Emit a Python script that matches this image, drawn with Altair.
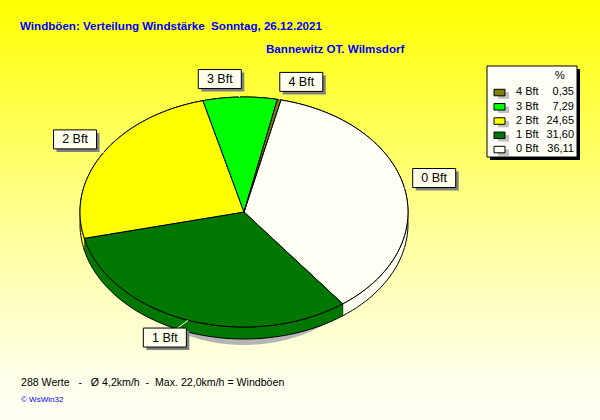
import altair as alt

# Wind force classes in drawing order (clockwise from the start angle)
classes = ["0 Bft", "1 Bft", "2 Bft", "3 Bft", "4 Bft"]
shares = [36.11, 31.60, 24.65, 7.29, 0.35]
colors = ["#FFFFF6", "#007800", "#FFFF00", "#00FF00", "#808000"]

title_main = "Windböen: Verteilung Windstärke  Sonntag, 26.12.2021"
title_station = "Bannewitz OT. Wilmsdorf"
footer = "288 Werte   -   Ø 4,2km/h  -  Max. 22,0km/h = Windböen"
credit = "© WsWin32"

# Canvas and pie geometry (pixels)
W, H = 600, 420
CX, CY, RX, RY = 244, 212, 164, 115
DEPTH = 12
START = 13          # degrees clockwise from 12 o'clock
N = 60              # rim points per slice
FONT = "Liberation Sans, Arial, sans-serif"

face_steps = list(range(-1, N + 2))
band_steps = list(range(0, 2 * N + 2))

src = alt.Data(values=[
    {"cls": c, "pct": p, "idx": i, "face": face_steps, "band": band_steps}
    for i, (c, p) in enumerate(zip(classes, shares))
])
one = alt.Data(values=[{}])

xs = alt.Scale(domain=[0, W], range=[0, W], nice=False, zero=False)
ys = alt.Scale(domain=[0, H], range=[0, H], nice=False, zero=False)


def X(f):
    return alt.X(f, type="quantitative", scale=xs, axis=None)


def Y(f):
    return alt.Y(f, type="quantitative", scale=ys, axis=None)


slice_color = alt.Color("cls:N", scale=alt.Scale(domain=classes, range=colors), legend=None)


def slices():
    return (
        alt.Chart(src)
        .transform_window(cum="sum(pct)", sort=[alt.SortField("idx")], frame=[None, 0])
        .transform_calculate(
            a0=f"({START} + 3.6 * (datum.cum - datum.pct)) * PI / 180",
            a1=f"({START} + 3.6 * datum.cum) * PI / 180",
        )
        .transform_calculate(amid="(datum.a0 + datum.a1) / 2")
    )


# background gradient
bg = alt.Chart(one).mark_rect(
    color=alt.Gradient(
        gradient="linear",
        stops=[
            alt.GradientStop(color="#FFFF00", offset=0),
            alt.GradientStop(color="#FFFF9B", offset=0.55),
            alt.GradientStop(color="#FFFFEA", offset=0.9),
            alt.GradientStop(color="#FFFFF4", offset=1),
        ],
        x1=0, x2=0, y1=0, y2=1,
    )
).encode(x=alt.value(0), x2=alt.value(W), y=alt.value(0), y2=alt.value(H))

# drop shadow under the pie
shadow = (
    slices()
    .transform_flatten(["face"], ["step"])
    .transform_calculate(
        a=f"datum.a0 + (datum.a1 - datum.a0) * clamp(datum.step, 0, {N}) / {N}",
        rim=f"datum.step >= 0 && datum.step <= {N}",
    )
    .transform_calculate(
        x=f"datum.rim ? {CX} + 140 * sin(datum.a) : {CX}",
        y=f"datum.rim ? {CY + 20} - 113 * cos(datum.a) : {CY + 20}",
    )
    .mark_line(filled=True, strokeWidth=0, interpolate="linear")
    .encode(x=X("x"), y=Y("y"), order=alt.Order("step:Q"), detail="cls:N",
            color=alt.value("#B4B4B4"))
)

# side walls of the pie
band = (
    slices()
    .transform_flatten(["band"], ["s"])
    .transform_calculate(
        frac=f"datum.s <= {N} ? datum.s / {N} : ({2 * N + 1} - datum.s) / {N}",
        dy=f"datum.s <= {N} ? 0 : {DEPTH}",
    )
    .transform_calculate(a="datum.a0 + (datum.a1 - datum.a0) * datum.frac")
    .transform_calculate(
        x=f"{CX} + {RX} * sin(datum.a)",
        y=f"{CY} - {RY} * cos(datum.a) + datum.dy",
    )
    .mark_line(filled=True, stroke="black", strokeWidth=1, interpolate="linear")
    .encode(x=X("x"), y=Y("y"), order=alt.Order("s:Q"), color=slice_color)
)

# top surface
face = (
    slices()
    .transform_flatten(["face"], ["step"])
    .transform_calculate(
        a=f"datum.a0 + (datum.a1 - datum.a0) * clamp(datum.step, 0, {N}) / {N}",
        rim=f"datum.step >= 0 && datum.step <= {N}",
    )
    .transform_calculate(
        x=f"datum.rim ? {CX} + {RX} * sin(datum.a) : {CX}",
        y=f"datum.rim ? {CY} - {RY} * cos(datum.a) : {CY}",
    )
    .mark_line(filled=True, stroke="black", strokeWidth=1, interpolate="linear")
    .encode(x=X("x"), y=Y("y"), order=alt.Order("step:Q"), color=slice_color)
)

# slice labels placed outside the rim
lab = slices().transform_calculate(
    ex=f"{CX} + {RX} * sin(datum.amid)",
    ey=f"{CY} - {RY} * cos(datum.amid)",
    sx="sin(datum.amid) >= 0 ? 1 : -1",
    sy="cos(datum.amid) >= 0 ? -1 : 1",
).transform_calculate(
    lx="datum.ex + datum.sx * (20 + 10 * abs(sin(datum.amid)))",
    ly="datum.ey + datum.sy * (8 + 10 * abs(cos(datum.amid)))",
).transform_calculate(
    bx0="datum.lx - 21.5", bx1="datum.lx + 21.5",
    by0="datum.ly - 9.5", by1="datum.ly + 9.5",
    sx0="datum.lx - 18.5", sx1="datum.lx + 24.5",
    sy0="datum.ly - 6.5", sy1="datum.ly + 12.5",
)

leaders = lab.mark_rule(color="white", strokeWidth=1).encode(
    x=X("ex"), y=Y("ey"), x2="lx:Q", y2="ly:Q")
box_shadow = lab.mark_rect(color="#808080").encode(
    x=X("sx0"), x2="sx1:Q", y=Y("sy0"), y2="sy1:Q")
boxes = lab.mark_rect(fill="#FFFFEC", stroke="black", strokeWidth=1).encode(
    x=X("bx0"), x2="bx1:Q", y=Y("by0"), y2="by1:Q")
labels = lab.mark_text(font=FONT, fontSize=12.5, color="black", align="center",
                       baseline="middle").encode(x=X("lx"), y=Y("ly"), text="cls:N")

# legend box
LX0, LX1, LY0, LY1 = 487, 577, 66, 157
leg_shadow = alt.Chart(one).mark_rect(color="black").encode(
    x=alt.value(LX0 + 3), x2=alt.value(LX1 + 3), y=alt.value(LY0 + 3), y2=alt.value(LY1 + 3))
leg_box = alt.Chart(one).mark_rect(fill="#FFFFF8", stroke="black", strokeWidth=1).encode(
    x=alt.value(LX0), x2=alt.value(LX1), y=alt.value(LY0), y2=alt.value(LY1))
leg_head = alt.Chart(alt.Data(values=[{"t": "%"}])).mark_text(
    font=FONT, fontSize=11, align="center", baseline="middle", color="black"
).encode(x=alt.value(560), y=alt.value(76), text="t:N")

leg = alt.Chart(src).transform_calculate(
    yy="92.3 + 14.25 * (4 - datum.idx)",
    txt="replace(format(datum.pct, '.2f'), '.', ',')",
).transform_calculate(
    s0="datum.yy - 3", s1="datum.yy + 3.5",
    h0="datum.yy", h1="datum.yy + 6.5",
)
leg_sw_shadow = leg.mark_rect(color="#C0C0C0").encode(
    x=alt.value(498), x2=alt.value(509), y=Y("h0"), y2="h1:Q")
leg_sw = leg.mark_rect(stroke="black", strokeWidth=1).encode(
    x=alt.value(494), x2=alt.value(505), y=Y("s0"), y2="s1:Q", color=slice_color)
leg_cls = leg.mark_text(font=FONT, fontSize=11, align="left", baseline="middle",
                        color="black").encode(x=alt.value(516), y=Y("yy"), text="cls:N")
leg_val = leg.mark_text(font=FONT, fontSize=11, align="right", baseline="middle",
                        color="black").encode(x=alt.value(574), y=Y("yy"), text="txt:N")


def text_at(t, x, y, size, color, weight="normal"):
    # non-breaking spaces keep the runs of blanks from collapsing in SVG
    return alt.Chart(alt.Data(values=[{"t": t.replace(" ", "\u00a0")}])).mark_text(
        font=FONT, fontSize=size, fontWeight=weight, color=color,
        align="left", baseline="alphabetic",
    ).encode(x=alt.value(x), y=alt.value(y), text="t:N")


t1 = text_at(title_main, 20, 29.5, 11.6, "#0000FF", "bold")
t2 = text_at(title_station, 266, 53, 11.6, "#0000FF", "bold")
t3 = text_at(footer, 21, 386, 10.6, "black")
t4 = text_at(credit, 21, 401.5, 8, "#0000FF")

chart = alt.layer(
    bg, shadow, band, face, leaders, box_shadow, boxes, labels,
    leg_shadow, leg_box, leg_head, leg_sw_shadow, leg_sw, leg_cls, leg_val,
    t1, t2, t3, t4,
).properties(
    width=W, height=H, padding=0, autosize="none"
).configure_view(stroke=None)

chart.save("out.html", embed_options={"renderer": "svg", "actions": False})
